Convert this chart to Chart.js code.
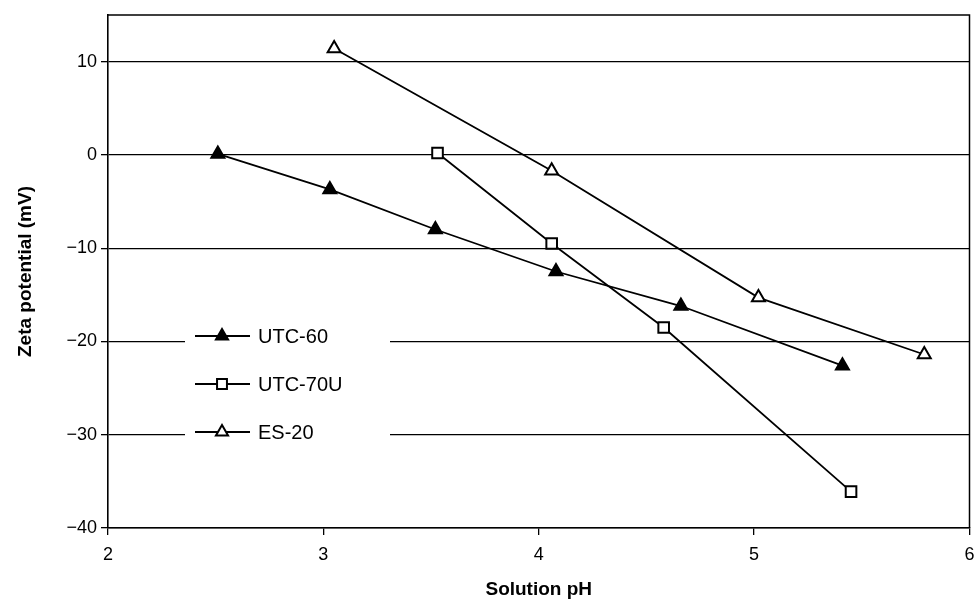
<!DOCTYPE html>
<html lang="en">
<head>
<meta charset="UTF-8">
<title>Zeta potential vs solution pH</title>
<script src="https://cdn.jsdelivr.net/npm/chart.js"></script>
<style>
  html, body { margin: 0; padding: 0; background: #fff; }
</style>
</head>
<body>
<canvas id="zetaChart" width="979" height="605"></canvas>
<script>
// data
const seriesNames = ['UTC-60', 'UTC-70U', 'ES-20'];
const utc60pH   = [2.51, 3.03, 3.52, 4.08, 4.66, 5.41];
const utc60Zeta = [0.1, -3.7, -8.0, -12.5, -16.2, -22.6];
const utc70pH   = [3.53, 4.06, 4.58, 5.45];
const utc70Zeta = [0.2, -9.5, -18.5, -36.1];
const es20pH    = [3.05, 4.06, 5.02, 5.79];
const es20Zeta  = [11.4, -1.7, -15.3, -21.4];
const xTicks = [2, 3, 4, 5, 6];
const yTicks = [-40, -30, -20, -10, 0, 10];

const FONT = "'Liberation Sans', Arial, Helvetica, sans-serif";

function pts(xs, ys) {
    return xs.map((x, i) => ({ x: x, y: ys[i] }));
}

const styles = [
    { pointStyle: 'triangle', fill: '#000' },
    { pointStyle: 'rect', fill: '#fff' },
    { pointStyle: 'triangle', fill: '#fff' }
];

const datasets = [
    pts(utc60pH, utc60Zeta),
    pts(utc70pH, utc70Zeta),
    pts(es20pH, es20Zeta)
].map((d, i) => ({
    label: seriesNames[i],
    data: d,
    borderColor: '#000',
    borderWidth: 1.8,
    pointStyle: styles[i].pointStyle,
    pointRadius: 7.5,
    pointBorderWidth: 2,
    pointBorderColor: '#000',
    pointBackgroundColor: styles[i].fill,
    tension: 0,
    fill: false
}));

// top and right sides of the plot frame
const frame = {
    id: 'frame',
    afterDraw(chart) {
        const a = chart.chartArea, ctx = chart.ctx;
        ctx.save();
        ctx.strokeStyle = '#000';
        ctx.lineWidth = 1.5;
        ctx.beginPath();
        ctx.moveTo(a.left, a.top);
        ctx.lineTo(a.right, a.top);
        ctx.lineTo(a.right, a.bottom);
        ctx.stroke();
        ctx.restore();
    }
};

// legend sitting inside the plot, over the gridlines
const boxLegend = {
    id: 'boxLegend',
    afterDatasetsDraw(chart) {
        const a = chart.chartArea, ctx = chart.ctx;
        const x0 = a.left + 77;
        const rows = [a.top + 321, a.top + 369, a.top + 417];
        ctx.save();
        ctx.fillStyle = '#fff';
        ctx.fillRect(x0, rows[0] - 16, 205, 130);
        rows.forEach((y, i) => {
            const ds = chart.data.datasets[i];
            ctx.strokeStyle = '#000';
            ctx.lineWidth = 1.8;
            ctx.beginPath();
            ctx.moveTo(x0 + 10, y);
            ctx.lineTo(x0 + 65, y);
            ctx.stroke();
            ctx.fillStyle = ds.pointBackgroundColor;
            ctx.lineWidth = 2;
            Chart.helpers.drawPoint(ctx, {
                pointStyle: ds.pointStyle, radius: 7, rotation: 0, borderWidth: 2
            }, x0 + 37, y);
            ctx.fillStyle = '#000';
            ctx.font = '20px ' + FONT;
            ctx.textBaseline = 'middle';
            ctx.textAlign = 'left';
            ctx.fillText(ds.label, x0 + 73, y + 1);
        });
        ctx.restore();
    }
};

new Chart(document.getElementById('zetaChart'), {
    type: 'line',
    data: { datasets: datasets },
    options: {
        responsive: false,
        animation: false,
        layout: { padding: { top: 15, right: -4, left: 0, bottom: 0 } },
        plugins: {
            legend: { display: false },
            tooltip: { enabled: false }
        },
        scales: {
            x: {
                type: 'linear',
                min: 2, max: 6,
                afterBuildTicks: s => { s.ticks = xTicks.map(v => ({ value: v })); },
                afterFit: s => { s.height = 77; s.paddingRight = 2; s.paddingLeft = 0; },
                grid: { drawOnChartArea: false, drawTicks: true, tickLength: 7, color: '#000', lineWidth: 1.3 },
                border: { color: '#000', width: 1.6 },
                ticks: { color: '#000', padding: 9, font: { family: FONT, size: 18 } },
                title: {
                    display: true, text: 'Solution pH', color: '#000',
                    font: { family: FONT, size: 19, weight: 'bold' },
                    padding: { top: 0, bottom: 4 }
                }
            },
            y: {
                type: 'linear',
                min: -40, max: 15,
                afterBuildTicks: s => { s.ticks = yTicks.map(v => ({ value: v })); },
                afterFit: s => { s.width = 108; },
                grid: { color: '#000', lineWidth: 1.3, tickLength: 7 },
                border: { color: '#000', width: 1.6 },
                ticks: {
                    color: '#000', padding: 4, font: { family: FONT, size: 18 },
                    callback: v => String(v).replace('-', '\u2212')
                },
                title: {
                    display: true, text: 'Zeta potential (mV)', color: '#000',
                    font: { family: FONT, size: 19, weight: 'bold' },
                    padding: { top: 14, bottom: 0 }
                }
            }
        }
    },
    plugins: [frame, boxLegend]
});
</script>
</body>
</html>
